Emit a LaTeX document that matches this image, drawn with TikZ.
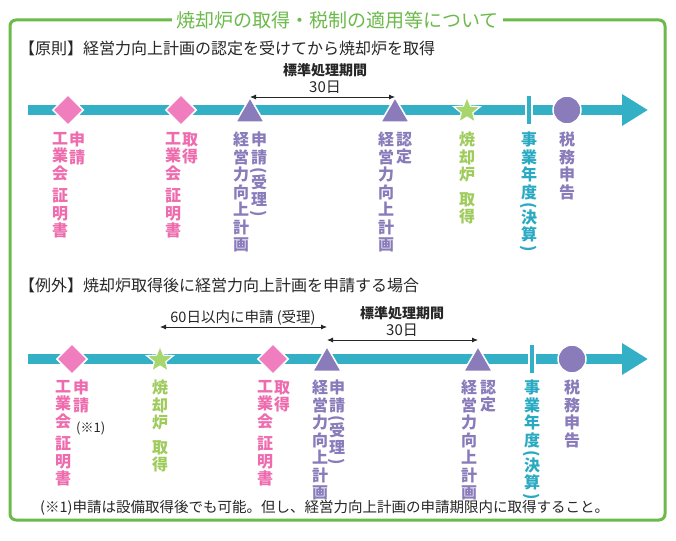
\documentclass[tikz,border=0pt]{standalone}
\usepackage{fontspec}
\setmainfont{Noto Sans CJK JP}
\usepackage{graphicx}
\usepackage{xcolor}
\usetikzlibrary{arrows.meta, positioning, shapes.geometric, calc}
\definecolor{framegreen}{HTML}{6BBA4A}
\definecolor{lineteal}{HTML}{33B0C6}
\definecolor{markpink}{HTML}{F07EBE}
\definecolor{markpurple}{HTML}{8A7BBA}
\definecolor{markgreen}{HTML}{A6D66C}
\definecolor{txtpink}{HTML}{EE6CAE}
\definecolor{txtgreen}{HTML}{9ECB5C}
\definecolor{txtteal}{HTML}{2AAAC2}
\newcommand{\vparen}[1]{\rotatebox[origin=c]{-90}{#1}}

\begin{document}
\begin{tikzpicture}[x=1pt, y=-1pt]
  \tikzset{tline/.style={line width=10pt, lineteal, -{Triangle[length=26pt, width=30pt]}}}
  \tikzset{dmd/.style={diamond, fill=markpink, draw=white, line width=1.5pt,
                       minimum size=31pt, inner sep=0pt}}
  \tikzset{tri/.style={regular polygon, regular polygon sides=3, fill=markpurple,
                       draw=white, line width=1.5pt, minimum size=33pt, inner sep=0pt, yshift=-4pt}}
  \tikzset{str/.style={star, star points=5, star point ratio=2.3, fill=markgreen,
                       draw=white, line width=1.2pt, minimum size=28pt, inner sep=0pt}}
  \tikzset{dot/.style={circle, fill=markpurple, draw=white, line width=1.5pt,
                       minimum size=28pt, inner sep=0pt}}
  \tikzset{tck/.style={rectangle, fill=lineteal, draw=white, line width=1.5pt,
                       minimum width=6pt, minimum height=29pt, inner sep=0pt}}
  \tikzset{vlab/.style={anchor=north, align=center, inner sep=0pt,
                        font=\bfseries\fontsize{16}{17.5}\selectfont}}
  \tikzset{dim/.style={line width=0.8pt, black!85,
                       {Latex[length=6pt, width=5pt]}-{Latex[length=6pt, width=5pt]}}}
  \tikzset{head/.style={anchor=west, inner sep=0pt, text=black!85,
                        font=\fontsize{16}{18}\selectfont}}

  \useasboundingbox (0,0) rectangle (676,540);

  % Frame and title
  \draw[framegreen, line width=3pt, rounded corners=6pt] (10,20) rectangle (665,520);
  \node[fill=white, inner xsep=4pt, text=framegreen, font=\fontsize{19}{21}\selectfont]
    (ttl) at (337.5,20) {焼却炉の取得・税制の適用等について};

  % ---- Rule ----
  \node[head] (hd1) at (19,48) {【原則】経営力向上計画の認定を受けてから焼却炉を取得};
  \coordinate (s1) at (28,110);
  \coordinate (e1) at (648,110);
  \draw[tline] (s1) -- (e1);
  \node[dmd] (dm1a) at (68,110) {};
  \node[dmd] (dm1b) at (181,110) {};
  \node[tri] (tr1a) at (250,110) {};
  \node[tri] (tr1b) at (395,110) {};
  \node[str] (st1) at (467,111) {};
  \node[tck] (bar1) at (529,110) {};
  \node[dot] (ci1) at (567,110) {};

  % standard period
  \node[font=\bfseries\fontsize{14}{16}\selectfont, text=black!85] (std1) at (325,70) {標準処理期間};
  \node[font=\fontsize{15}{16}\selectfont, text=black!85] (d30a) at (325,87) {30日};
  \coordinate (ar1) at (0,97);
  \draw[dim] (tr1a |- ar1) -- (tr1b |- ar1);

  % labels
  \coordinate (lt1) at (0,132);
  \node[vlab, text=txtpink, xshift=9pt] (l1a) at (dm1a |- lt1) {申\\請};
  \node[vlab, text=txtpink, xshift=-8pt] (l1b) at (dm1a |- lt1) {工\\業\\会\\[5pt]証\\明\\書};
  \node[vlab, text=txtpink, xshift=9pt] (l1c) at (dm1b |- lt1) {取\\得};
  \node[vlab, text=txtpink, xshift=-8pt] (l1d) at (dm1b |- lt1) {工\\業\\会\\[5pt]証\\明\\書};
  \node[vlab, text=markpurple, xshift=9pt] (l1e) at (tr1a |- lt1)
    {申\\請\\[-5pt]\vparen{(}\\[-5pt]受\\理\\[-5pt]\vparen{)}};
  \node[vlab, text=markpurple, xshift=-9pt] (l1f) at (tr1a |- lt1) {経\\営\\力\\向\\上\\計\\画};
  \node[vlab, text=markpurple, xshift=9pt] (l1g) at (tr1b |- lt1) {認\\定};
  \node[vlab, text=markpurple, xshift=-9pt] (l1h) at (tr1b |- lt1) {経\\営\\力\\向\\上\\計\\画};
  \node[vlab, text=txtgreen] (l1i) at (st1 |- lt1) {焼\\却\\炉\\[7pt]取\\得};
  \node[vlab, text=txtteal] (l1j) at (bar1 |- lt1)
    {事\\業\\年\\度\\[-5pt]\vparen{(}\\[-5pt]決\\算\\[-5pt]\vparen{)}};
  \node[vlab, text=markpurple] (l1k) at (ci1 |- lt1) {税\\務\\申\\告};

  % ---- Exception ----
  \node[head] (hd2) at (19,285) {【例外】焼却炉取得後に経営力向上計画を申請する場合};
  \coordinate (s2) at (28,359);
  \coordinate (e2) at (648,359);
  \draw[tline] (s2) -- (e2);
  \node[dmd] (dm2a) at (72,359) {};
  \node[str] (st2) at (160,360) {};
  \node[dmd] (dm2b) at (273,359) {};
  \node[tri] (tr2a) at (327,359) {};
  \node[tri] (tr2b) at (478,359) {};
  \node[tck] (bar2) at (532,359) {};
  \node[dot] (ci2) at (572,359) {};

  % 60 days
  \node[font=\fontsize{14.5}{16}\selectfont, text=black!85] (d60) at (243,318) {60日以内に申請 (受理)};
  \coordinate (ar2) at (0,327);
  \draw[dim] (st2 |- ar2) -- (tr2a |- ar2);
  % standard period
  \node[font=\bfseries\fontsize{14}{16}\selectfont, text=black!85] (std2) at (402,313) {標準処理期間};
  \node[font=\fontsize{15}{16}\selectfont, text=black!85] (d30b) at (402,330) {30日};
  \coordinate (ar3) at (0,340);
  \draw[dim] (tr2a |- ar3) -- (tr2b |- ar3);

  % labels
  \coordinate (lt2) at (0,380);
  \node[vlab, text=txtpink, xshift=9pt] (l2a) at (dm2a |- lt2) {申\\請};
  \node[vlab, text=txtpink, xshift=-9pt] (l2b) at (dm2a |- lt2) {工\\業\\会\\[5pt]証\\明\\書};
  \node[anchor=west, inner sep=0pt, text=black!85, font=\fontsize{13}{15}\selectfont]
    (nt1) at (76,428) {(※1)};
  \node[vlab, text=txtgreen] (l2c) at (st2 |- lt2) {焼\\却\\炉\\[7pt]取\\得};
  \node[vlab, text=txtpink, xshift=9pt] (l2d) at (dm2b |- lt2) {取\\得};
  \node[vlab, text=txtpink, xshift=-8pt] (l2e) at (dm2b |- lt2) {工\\業\\会\\[5pt]証\\明\\書};
  \node[vlab, text=markpurple, xshift=10pt] (l2f) at (tr2a |- lt2)
    {申\\請\\[-5pt]\vparen{(}\\[-5pt]受\\理\\[-5pt]\vparen{)}};
  \node[vlab, text=markpurple, xshift=-7pt] (l2g) at (tr2a |- lt2) {経\\営\\力\\向\\上\\計\\画};
  \node[vlab, text=markpurple, xshift=10pt] (l2h) at (tr2b |- lt2) {認\\定};
  \node[vlab, text=markpurple, xshift=-9pt] (l2i) at (tr2b |- lt2) {経\\営\\力\\向\\上\\計\\画};
  \node[vlab, text=txtteal] (l2j) at (bar2 |- lt2)
    {事\\業\\年\\度\\[-5pt]\vparen{(}\\[-5pt]決\\算\\[-5pt]\vparen{)}};
  \node[vlab, text=markpurple] (l2k) at (ci2 |- lt2) {税\\務\\申\\告};

  % footnote
  \node[anchor=west, inner sep=0pt, text=black!85, font=\fontsize{14.5}{16}\selectfont]
    (fn) at (40,508) {(※1)申請は設備取得後でも可能。但し、経営力向上計画の申請期限内に取得すること。};
\end{tikzpicture}
\end{document}
